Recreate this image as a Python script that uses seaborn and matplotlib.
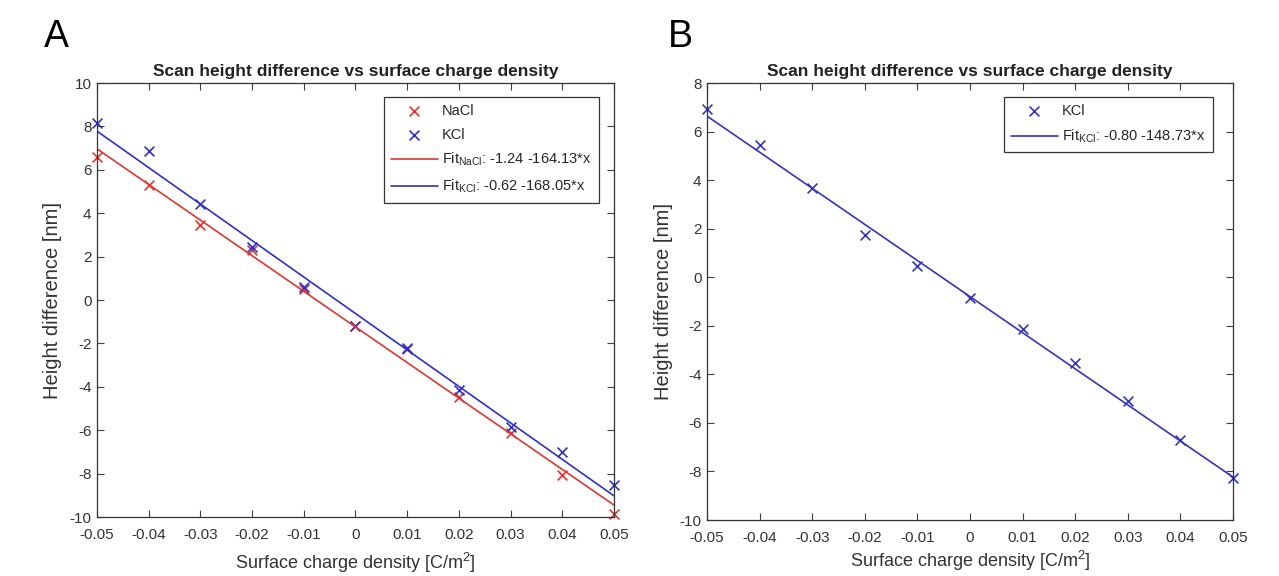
import numpy as np
import pandas as pd
import matplotlib
matplotlib.use("Agg")
import matplotlib.pyplot as plt
import seaborn as sns

# data
charge = [-0.05, -0.04, -0.03, -0.02, -0.01, 0.0, 0.01, 0.02, 0.03, 0.04, 0.05]
nacl_a = [6.6, 5.3, 3.45, 2.3, 0.5, -1.2, -2.25, -4.45, -6.12, -8.05, -9.85]
kcl_a = [8.15, 6.85, 4.42, 2.43, 0.6, -1.18, -2.23, -4.15, -5.85, -7.0, -8.54]
kcl_b = [6.93, 5.44, 3.66, 1.75, 0.48, -0.87, -2.15, -3.52, -5.11, -6.7, -8.26]

# fit coefficients (intercept, slope) as printed in the legends
fit_nacl_a = (-1.24, -164.13)
fit_kcl_a = (-0.62, -168.05)
fit_kcl_b = (-0.80, -148.73)

xticks = [-0.05, -0.04, -0.03, -0.02, -0.01, 0, 0.01, 0.02, 0.03, 0.04, 0.05]
xticklabels = ["-0.05", "-0.04", "-0.03", "-0.02", "-0.01", "0", "0.01", "0.02", "0.03", "0.04", "0.05"]

RED = "#e5342f"
BLUE = "#2f2fcc"
BLUE_B = "#3434c0"
GREY = "#404040"

sns.set_style("ticks")
plt.rcParams["font.family"] = ["Liberation Sans", "DejaVu Sans"]
plt.rcParams["mathtext.default"] = "regular"
plt.rcParams.update({
    "axes.unicode_minus": False,
    "xtick.direction": "in", "ytick.direction": "in",
    "xtick.top": True, "ytick.right": True,
    "xtick.color": GREY, "ytick.color": GREY,
    "xtick.labelcolor": "#333333", "ytick.labelcolor": "#333333",
    "axes.edgecolor": "#333333",
})

fig = plt.figure(figsize=(12.79, 5.76), dpi=100)
ax1 = fig.add_axes([0.0758, 0.1024, 0.4042, 0.7535])
ax2 = fig.add_axes([0.5528, 0.0972, 0.4113, 0.7587])


def fit_line(ax, coef, color, label):
    xs = np.array([charge[0], charge[-1]])
    df = pd.DataFrame({"x": xs, "y": coef[0] + coef[1] * xs})
    sns.lineplot(data=df, x="x", y="y", ax=ax, color=color, lw=1.2, label=label)


def style(ax, ymin, ymax, xpad):
    ax.set_xlim(-0.05, 0.05)
    ax.set_ylim(ymin, ymax)
    ax.set_xticks(xticks)
    ax.set_xticklabels(xticklabels)
    ax.set_yticks(np.arange(ymin, ymax + 1, 2))
    ax.tick_params(labelsize=11, length=5, width=0.8)
    ax.tick_params(axis="x", pad=8)
    ax.tick_params(axis="y", pad=4)
    for s in ax.spines.values():
        s.set_linewidth(0.9)
    ax.set_xlabel("Surface charge density [C/m$^2$]", fontsize=13, color="#333333", labelpad=xpad)
    ax.set_ylabel("Height difference [nm]", fontsize=14.5, color="#333333", labelpad=5)
    ax.set_title("Scan height difference vs surface charge density", fontsize=12.5,
                 fontweight="bold", color="#222222", pad=5)
    for c in ax.collections:
        c.set_clip_on(False)


# panel A
sns.scatterplot(x=charge, y=nacl_a, ax=ax1, marker="x", color=RED, s=50, linewidth=1.2, label="NaCl")
sns.scatterplot(x=charge, y=kcl_a, ax=ax1, marker="x", color=BLUE, s=50, linewidth=1.2, label="KCl")
fit_line(ax1, fit_nacl_a, RED, r"Fit$_{NaCl}$: -1.24 -164.13*x")
fit_line(ax1, fit_kcl_a, BLUE, r"Fit$_{KCl}$: -0.62 -168.05*x")
style(ax1, -10, 10, 6)
leg = ax1.legend(loc="upper right", fontsize=10.5, frameon=True, fancybox=False,
                 edgecolor="#333333", framealpha=1, borderpad=0.5, labelspacing=0.65,
                 handlelength=3.2, handletextpad=0.3, bbox_to_anchor=(0.985, 0.985))
leg.get_frame().set_linewidth(0.9)

# panel B
sns.scatterplot(x=charge, y=kcl_b, ax=ax2, marker="x", color=BLUE_B, s=50, linewidth=1.2, label="KCl")
fit_line(ax2, fit_kcl_b, BLUE_B, r"Fit$_{KCl}$: -0.80 -148.73*x")
style(ax2, -10, 8, 3)
leg = ax2.legend(loc="upper right", fontsize=10.5, frameon=True, fancybox=False,
                 edgecolor="#333333", framealpha=1, borderpad=0.5, labelspacing=0.65,
                 handlelength=3.2, handletextpad=0.3, bbox_to_anchor=(0.975, 0.985))
leg.get_frame().set_linewidth(0.9)

fig.text(0.034, 0.935, "A", fontsize=27, color="black", ha="left", va="center")
fig.text(0.522, 0.935, "B", fontsize=27, color="black", ha="left", va="center")

fig.savefig("out.png", dpi=100, facecolor="white")
